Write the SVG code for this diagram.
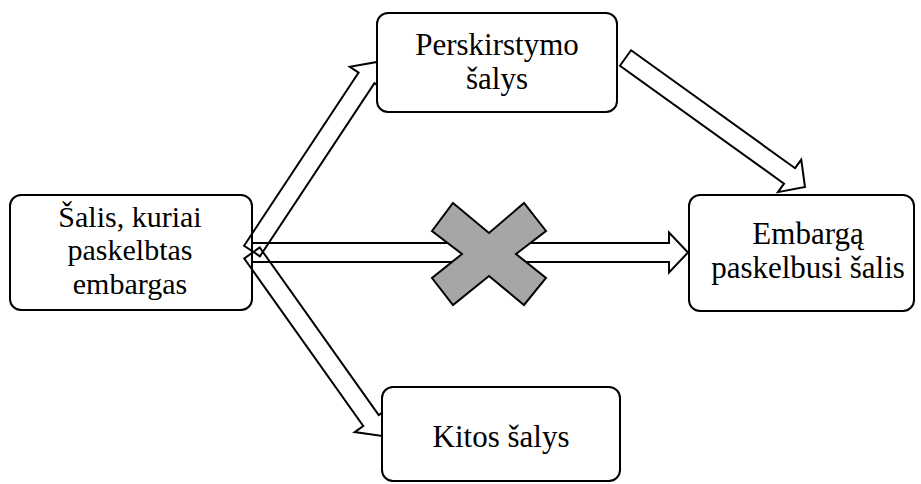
<svg xmlns="http://www.w3.org/2000/svg" width="921" height="484" viewBox="0 0 921 484">
<style>
.box{fill:#fff;stroke:#000;stroke-width:2}
.arr{fill:none;stroke:#000;stroke-width:2;stroke-linejoin:miter}
text{font-family:'Liberation Serif','Times New Roman',Times,serif;font-size:31px;fill:#000;text-anchor:middle}
.s{font-size:30px}
.x{fill:#a6a6a6;stroke:#000;stroke-width:2;stroke-linejoin:miter}
</style>
<rect width="921" height="484" fill="#fff"/>
<g id="n-embargo-target">
<rect class="box" x="10" y="195" width="242" height="115" rx="11"/>
<text class="s" x="130" y="227">Šalis, kuriai</text>
<text class="s" x="130" y="260.3">paskelbtas</text>
<text class="s" x="130" y="293.6">embargas</text>
</g>
<g id="connectors">
<polygon class="arr" points="252,243 669,243 669,232.5 688,252.5 669,272.5 669,262 252,262"/>
<polygon class="arr" points="244.08,245.76 358.6,72.61 349.84,66.82 377,62 383.2,88.88 374.44,83.09 259.92,256.24"/>
<polygon class="arr" points="259.75,247.5 378.75,415.01 387.31,408.93 382,436 354.69,432.09 363.25,426.01 244.25,258.5"/>
<polygon class="arr" points="631.04,50.29 795.11,168.2 801.24,159.67 805,187 777.9,192.15 784.03,183.62 619.96,65.71"/>
</g>
<g id="n-redistribution">
<rect class="box" x="377" y="13" width="240" height="99" rx="11"/>
<text x="497" y="55">Perskirstymo</text>
<text x="497" y="88.5">šalys</text>
</g>
<g id="n-embargo-source">
<rect class="box" x="689" y="195" width="225" height="116" rx="11"/>
<text x="808" y="244">Embargą</text>
<text x="808" y="277.5">paskelbusi šalis</text>
</g>
<g id="n-others">
<rect class="box" x="382" y="387" width="238" height="94" rx="11"/>
<text x="501" y="447">Kitos šalys</text>
</g>
<g id="blocked">
<polygon class="x" points="453,203 489,233 524,203 546,231 516,254 546,278 524,305 489,276 453,305 432,278 462,254 432,231"/>
</g>
</svg>
